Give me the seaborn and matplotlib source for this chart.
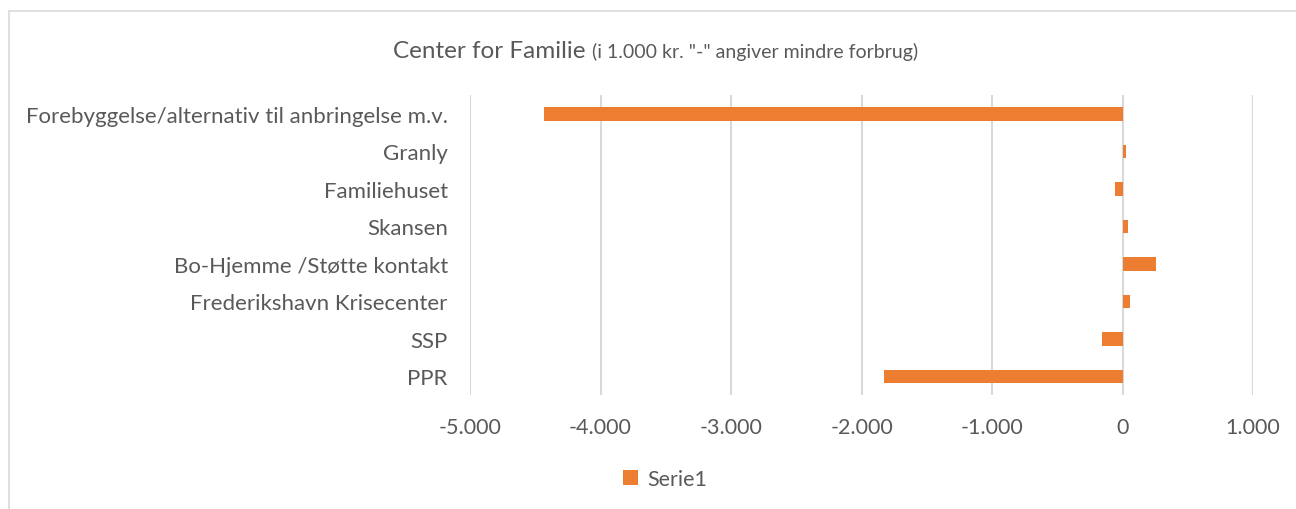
import pandas as pd
import numpy as np
import seaborn as sns
import matplotlib.pyplot as plt
from matplotlib.patches import Rectangle
from matplotlib.ticker import FuncFormatter

categories = ["Forebyggelse/alternativ til anbringelse m.v.", "Granly", "Familiehuset",
              "Skansen", "Bo-Hjemme /Støtte kontakt", "Frederikshavn Krisecenter", "SSP", "PPR"]
values = [-4430, 25, -55, 45, 255, 55, -160, -1825]
series_name = "Serie1"
xticks = [-5000, -4000, -3000, -2000, -1000, 0, 1000]

df = pd.DataFrame({"Kategori": categories, "Beløb": values, "Serie": series_name})

sns.set_theme(style="white")
plt.rcParams['font.family'] = ['Lato', 'DejaVu Sans']
grey = "#595959"

fig = plt.figure(figsize=(12.96, 5.10), dpi=100)
ax = fig.add_axes([470/1296, 1-396/510, 783/1296, 300/510])

sns.barplot(data=df, y="Kategori", x="Beløb", hue="Serie", order=categories,
            palette=["#ED7D31"], width=0.36, orient="h", ax=ax, saturation=1,
            linewidth=0)
for p in ax.patches:
    p.set_zorder(3)

ax.set_xlim(-5000, 1000)
ax.set_xticks(xticks)
ax.xaxis.set_major_formatter(FuncFormatter(lambda v, p: f"{int(v):,}".replace(",", ".")))
ax.grid(axis="x", color="#D9D9D9", linewidth=1.5)
ax.set_axisbelow(True)
for s in ax.spines.values():
    s.set_visible(False)
ax.set_xlabel("")
ax.set_ylabel("")
ax.tick_params(axis="x", colors=grey, labelsize=15.5, pad=16, length=0)
ax.tick_params(axis="y", colors=grey, labelsize=16, pad=16, length=0)

sns.move_legend(ax, "center", bbox_to_anchor=(665/1296, 1-480/510),
                bbox_transform=fig.transFigure, frameon=False, title=None,
                fontsize=15.5, handlelength=0.7, handleheight=0.7, handletextpad=0.4)
for t in ax.get_legend().get_texts():
    t.set_color(grey)

main = fig.text(393/1296, 1-58/510, "Center for Familie", fontsize=17.5, color=grey,
                va="baseline", ha="left")
fig.canvas.draw()
bb = main.get_window_extent()
fig.text((bb.x1 + 6)/1296, 1-58/510, '(i 1.000 kr. "-" angiver mindre forbrug)',
         fontsize=14, color=grey, va="baseline", ha="left")

fig.patches.append(Rectangle((9/1296, -0.1), 1.2, 1.1 - 11.5/510, transform=fig.transFigure,
                             fill=False, edgecolor="#D9D9D9", linewidth=1.2))

fig.savefig("out.png", dpi=100)
